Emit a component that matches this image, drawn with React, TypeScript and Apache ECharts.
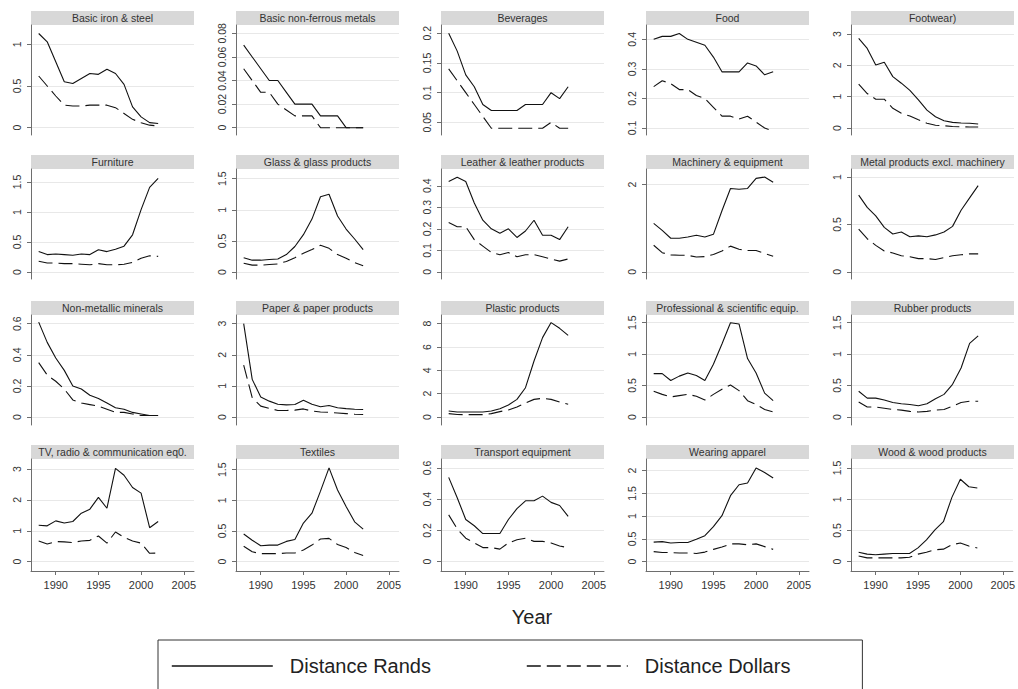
import React, { useEffect, useRef } from "react";
import * as echarts from "echarts";

const YEARS = [1988, 1989, 1990, 1991, 1992, 1993, 1994, 1995, 1996, 1997, 1998, 1999, 2000, 2001, 2002];
const X_TICKS = [1990, 1995, 2000, 2005];

const IRON_R = [1.13, 1.03, 0.79, 0.55, 0.53, 0.59, 0.65, 0.64, 0.7, 0.65, 0.52, 0.25, 0.13, 0.06, 0.05];
const IRON_D = [0.62, 0.5, 0.38, 0.27, 0.26, 0.26, 0.27, 0.27, 0.27, 0.24, 0.17, 0.1, 0.06, 0.03, 0.02];
const NF_R = [0.07, 0.06, 0.05, 0.04, 0.04, 0.03, 0.02, 0.02, 0.02, 0.01, 0.01, 0.01, 0, 0, 0];
const NF_D = [0.05, 0.04, 0.03, 0.03, 0.02, 0.015, 0.01, 0.01, 0.01, 0, 0, 0, 0, 0, 0];
const BEV_R = [0.2, 0.17, 0.13, 0.11, 0.08, 0.07, 0.07, 0.07, 0.07, 0.08, 0.08, 0.08, 0.1, 0.09, 0.11];
const BEV_D = [0.14, 0.12, 0.1, 0.08, 0.06, 0.04, 0.04, 0.04, 0.04, 0.04, 0.04, 0.04, 0.05, 0.04, 0.04];
const FOOD_R = [0.4, 0.41, 0.41, 0.42, 0.4, 0.39, 0.38, 0.34, 0.29, 0.29, 0.29, 0.32, 0.31, 0.28, 0.29];
const FOOD_D = [0.24, 0.26, 0.25, 0.23, 0.23, 0.21, 0.2, 0.17, 0.14, 0.14, 0.13, 0.14, 0.12, 0.1, 0.09];
const FOOT_R = [2.86, 2.54, 2.01, 2.1, 1.64, 1.43, 1.2, 0.9, 0.57, 0.36, 0.23, 0.18, 0.16, 0.15, 0.13];
const FOOT_D = [1.4, 1.1, 0.92, 0.92, 0.63, 0.47, 0.38, 0.26, 0.15, 0.09, 0.07, 0.05, 0.04, 0.03, 0.03];
const FURN_R = [0.34, 0.29, 0.3, 0.29, 0.28, 0.3, 0.29, 0.37, 0.34, 0.38, 0.43, 0.62, 1.04, 1.41, 1.56];
const FURN_D = [0.18, 0.15, 0.15, 0.14, 0.14, 0.13, 0.12, 0.14, 0.12, 0.12, 0.13, 0.16, 0.23, 0.27, 0.26];
const GLASS_R = [0.23, 0.19, 0.19, 0.2, 0.21, 0.28, 0.41, 0.6, 0.85, 1.21, 1.25, 0.9, 0.69, 0.53, 0.36];
const GLASS_D = [0.14, 0.11, 0.11, 0.12, 0.13, 0.17, 0.23, 0.3, 0.36, 0.43, 0.38, 0.28, 0.22, 0.15, 0.1];
const LEATH_R = [0.42, 0.44, 0.42, 0.32, 0.24, 0.2, 0.18, 0.2, 0.16, 0.19, 0.24, 0.17, 0.17, 0.15, 0.21];
const LEATH_D = [0.23, 0.21, 0.21, 0.15, 0.12, 0.09, 0.08, 0.09, 0.07, 0.08, 0.08, 0.07, 0.06, 0.05, 0.06];
const MACH_R = [1.11, 0.95, 0.77, 0.77, 0.8, 0.84, 0.8, 0.86, 1.4, 1.91, 1.89, 1.91, 2.14, 2.17, 2.05];
const MACH_D = [0.61, 0.44, 0.39, 0.38, 0.38, 0.34, 0.35, 0.4, 0.48, 0.59, 0.52, 0.49, 0.49, 0.42, 0.36];
const METAL_R = [0.81, 0.68, 0.59, 0.47, 0.4, 0.42, 0.37, 0.38, 0.37, 0.39, 0.42, 0.48, 0.65, 0.78, 0.91];
const METAL_D = [0.45, 0.35, 0.28, 0.22, 0.2, 0.17, 0.16, 0.14, 0.14, 0.13, 0.15, 0.17, 0.18, 0.19, 0.19];
const NONMET_R = [0.61, 0.48, 0.38, 0.3, 0.2, 0.18, 0.14, 0.12, 0.09, 0.06, 0.05, 0.03, 0.02, 0.01, 0.01];
const NONMET_D = [0.35, 0.27, 0.23, 0.18, 0.11, 0.09, 0.08, 0.07, 0.05, 0.03, 0.03, 0.02, 0.01, 0.01, 0.01];
const PAPER_R = [3.0, 1.21, 0.64, 0.51, 0.41, 0.39, 0.4, 0.54, 0.41, 0.33, 0.37, 0.3, 0.27, 0.25, 0.24];
const PAPER_D = [1.67, 0.62, 0.35, 0.28, 0.21, 0.21, 0.22, 0.26, 0.19, 0.16, 0.15, 0.13, 0.11, 0.09, 0.08];
const PLAST_R = [0.51, 0.43, 0.43, 0.43, 0.43, 0.51, 0.71, 1.03, 1.51, 2.51, 4.8, 6.8, 8.09, 7.6, 7.0];
const PLAST_D = [0.29, 0.22, 0.2, 0.2, 0.2, 0.29, 0.46, 0.6, 0.86, 1.2, 1.51, 1.6, 1.51, 1.29, 1.09];
const PROF_R = [0.69, 0.69, 0.58, 0.65, 0.7, 0.66, 0.58, 0.84, 1.16, 1.5, 1.48, 0.93, 0.7, 0.38, 0.26];
const PROF_D = [0.41, 0.36, 0.32, 0.34, 0.36, 0.33, 0.27, 0.36, 0.44, 0.51, 0.42, 0.26, 0.2, 0.12, 0.08];
const RUB_R = [0.41, 0.3, 0.3, 0.27, 0.23, 0.21, 0.2, 0.18, 0.21, 0.29, 0.36, 0.52, 0.78, 1.17, 1.29];
const RUB_D = [0.24, 0.16, 0.16, 0.14, 0.12, 0.11, 0.09, 0.08, 0.09, 0.11, 0.12, 0.17, 0.23, 0.25, 0.25];
const TV_R = [1.18, 1.16, 1.32, 1.25, 1.3, 1.57, 1.7, 2.08, 1.73, 3.02, 2.8, 2.4, 2.22, 1.1, 1.3];
const TV_D = [0.67, 0.57, 0.65, 0.64, 0.62, 0.67, 0.69, 0.83, 0.6, 0.96, 0.79, 0.67, 0.6, 0.27, 0.28];
const TEX_R = [0.45, 0.35, 0.26, 0.27, 0.27, 0.33, 0.36, 0.63, 0.79, 1.15, 1.53, 1.17, 0.9, 0.65, 0.53];
const TEX_D = [0.25, 0.16, 0.13, 0.13, 0.13, 0.14, 0.14, 0.19, 0.27, 0.37, 0.38, 0.28, 0.23, 0.15, 0.1];
const TRANS_R = [0.54, 0.41, 0.27, 0.23, 0.18, 0.18, 0.18, 0.27, 0.34, 0.39, 0.39, 0.42, 0.38, 0.36, 0.29];
const TRANS_D = [0.3, 0.21, 0.15, 0.12, 0.09, 0.09, 0.08, 0.12, 0.14, 0.15, 0.13, 0.13, 0.12, 0.1, 0.09];
const WEAR_R = [0.43, 0.44, 0.41, 0.42, 0.42, 0.49, 0.57, 0.77, 1.01, 1.45, 1.69, 1.73, 2.06, 1.96, 1.84];
const WEAR_D = [0.22, 0.2, 0.2, 0.19, 0.19, 0.18, 0.21, 0.27, 0.32, 0.39, 0.39, 0.37, 0.39, 0.33, 0.27];
const WOOD_R = [0.15, 0.12, 0.11, 0.12, 0.13, 0.13, 0.13, 0.22, 0.35, 0.51, 0.64, 1.03, 1.32, 1.2, 1.18];
const WOOD_D = [0.09, 0.06, 0.06, 0.06, 0.06, 0.06, 0.07, 0.12, 0.15, 0.19, 0.2, 0.27, 0.3, 0.25, 0.22];

const PANELS = [
  { name: "Basic iron & steel", r: IRON_R, d: IRON_D, ticks: [0, 0.5, 1], range: [-0.088, 1.232] },
  { name: "Basic non-ferrous metals", r: NF_R, d: NF_D, ticks: [0, 0.02, 0.04, 0.06, 0.08], range: [-0.0062, 0.0871] },
  { name: "Beverages", r: BEV_R, d: BEV_D, ticks: [0.05, 0.1, 0.15, 0.2], range: [0.0287, 0.214] },
  { name: "Food", r: FOOD_R, d: FOOD_D, ticks: [0.1, 0.2, 0.3, 0.4], range: [0.0763, 0.4485] },
  { name: "Footwear)", r: FOOT_R, d: FOOT_D, ticks: [0, 1, 2, 3], range: [-0.223, 3.287] },
  { name: "Furniture", r: FURN_R, d: FURN_D, ticks: [0, 0.5, 1, 1.5], range: [-0.117, 1.717] },
  { name: "Glass & glass products", r: GLASS_R, d: GLASS_D, ticks: [0, 0.5, 1, 1.5], range: [-0.1125, 1.655] },
  { name: "Leather & leather products", r: LEATH_R, d: LEATH_D, ticks: [0, 0.1, 0.2, 0.3, 0.4], range: [-0.033, 0.478] },
  { name: "Machinery & equipment", r: MACH_R, d: MACH_D, ticks: [0, 2], range: [-0.162, 2.355] },
  { name: "Metal products excl. machinery", r: METAL_R, d: METAL_D, ticks: [0, 0.5, 1], range: [-0.075, 1.085] },
  { name: "Non-metallic minerals", r: NONMET_R, d: NONMET_D, ticks: [0, 0.2, 0.4, 0.6], range: [-0.051, 0.656] },
  { name: "Paper & paper products", r: PAPER_R, d: PAPER_D, ticks: [0, 1, 2, 3], range: [-0.257, 3.279] },
  { name: "Plastic products", r: PLAST_R, d: PLAST_D, ticks: [0, 2, 4, 6, 8], range: [-0.686, 8.74] },
  { name: "Professional & scientific equip.", r: PROF_R, d: PROF_D, ticks: [0, 0.5, 1, 1.5], range: [-0.127, 1.622] },
  { name: "Rubber products", r: RUB_R, d: RUB_D, ticks: [0, 0.5, 1, 1.5], range: [-0.127, 1.622] },
  { name: "TV, radio & communication eq0.", r: TV_R, d: TV_D, ticks: [0, 1, 2, 3], range: [-0.303, 3.325] },
  { name: "Textiles", r: TEX_R, d: TEX_D, ticks: [0, 0.5, 1, 1.5], range: [-0.153, 1.675] },
  { name: "Transport equipment", r: TRANS_R, d: TRANS_D, ticks: [0, 0.2, 0.4, 0.6], range: [-0.06, 0.658] },
  { name: "Wearing apparel", r: WEAR_R, d: WEAR_D, ticks: [0, 0.5, 1, 1.5, 2], range: [-0.206, 2.257] },
  { name: "Wood & wood products", r: WOOD_R, d: WOOD_D, ticks: [0, 0.5, 1, 1.5], range: [-0.15, 1.645] },
];

const FONT = "'Liberation Sans', Arial, Helvetica, sans-serif";
const COL_LEFT = [31, 236, 441, 646, 851];
const COL_W = 163;
const ROW_TOP = [25, 169, 315, 459];
const ROW_H = [110, 110, 110, 112];
const BAR_H = 14;
const AXIS_COLOR = "#6e6e6e";
const DASH = [14, 6];

function buildOption() {
  const grid: any[] = [];
  const xAxis: any[] = [];
  const yAxis: any[] = [];
  const series: any[] = [];
  const graphic: any[] = [];
  PANELS.forEach((p, i) => {
    const r = Math.floor(i / 5);
    const c = i % 5;
    const left = COL_LEFT[c];
    const top = ROW_TOP[r];
    grid.push({ left, top, width: COL_W, height: ROW_H[r], containLabel: false });
    const bottomRow = r === 3;
    xAxis.push({
      type: "value",
      gridIndex: i,
      min: 1987.1,
      max: 2006.2,
      show: bottomRow,
      axisLine: { show: true, onZero: false, lineStyle: { color: AXIS_COLOR, width: 1 } },
      axisTick: { show: true, length: 4, customValues: X_TICKS, lineStyle: { color: AXIS_COLOR } },
      axisLabel: {
        show: true,
        customValues: X_TICKS,
        fontSize: 11,
        color: "#333",
        margin: 8,
        fontFamily: FONT,
        formatter: (v: number) => String(v),
      },
      splitLine: { show: false },
    });
    yAxis.push({
      type: "value",
      gridIndex: i,
      min: p.range[0],
      max: p.range[1],
      axisLine: { show: true, onZero: false, lineStyle: { color: AXIS_COLOR, width: 1 } },
      axisTick: { show: true, length: 4, customValues: p.ticks, lineStyle: { color: AXIS_COLOR } },
      axisLabel: {
        show: true,
        customValues: p.ticks,
        rotate: 90,
        fontSize: 10.5,
        color: "#333",
        margin: 9,
        fontFamily: FONT,
        formatter: (v: number) => String(v),
      },
      splitLine: { show: true, lineStyle: { color: "#e8e8e8", width: 1 } },
    });
    series.push({
      type: "line",
      name: "Distance Rands",
      xAxisIndex: i,
      yAxisIndex: i,
      data: YEARS.map((y, k) => [y, p.r[k]]),
      symbol: "none",
      silent: true,
      lineStyle: { color: "#111", width: 1.1 },
      itemStyle: { color: "#111" },
    });
    series.push({
      type: "line",
      name: "Distance Dollars",
      xAxisIndex: i,
      yAxisIndex: i,
      data: YEARS.map((y, k) => [y, p.d[k]]),
      symbol: "none",
      silent: true,
      lineStyle: { color: "#111", width: 1.1, type: DASH },
      itemStyle: { color: "#111" },
    });
    graphic.push({
      type: "rect",
      silent: true,
      shape: { x: left, y: top - BAR_H, width: COL_W, height: BAR_H },
      style: { fill: "#d8d8d8" },
    });
    graphic.push({
      type: "text",
      silent: true,
      x: left + COL_W / 2,
      y: top - BAR_H / 2,
      style: {
        text: p.name,
        fontSize: 10.5,
        fontFamily: FONT,
        fill: "#333",
        align: "center",
        verticalAlign: "middle",
        textAlign: "center",
        textVerticalAlign: "middle",
      },
    });
  });
  graphic.push({
    type: "text",
    silent: true,
    x: 532,
    y: 617,
    style: {
      text: "Year",
      fontSize: 20,
      fontFamily: FONT,
      fill: "#222",
      align: "center",
      verticalAlign: "middle",
      textAlign: "center",
      textVerticalAlign: "middle",
    },
  });
  return {
    animation: false,
    backgroundColor: "#ffffff",
    grid,
    xAxis,
    yAxis,
    series,
    graphic,
    legend: {
      data: ["Distance Rands", "Distance Dollars"],
      left: 158,
      top: 640,
      orient: "horizontal",
      padding: [16, 72, 24, 13],
      itemWidth: 101,
      itemHeight: 20,
      itemGap: 95,
      borderColor: "#333",
      borderWidth: 1,
      borderRadius: 0,
      selectedMode: false,
      itemStyle: { opacity: 0 },
      lineStyle: { width: 1.6 },
      textStyle: { fontSize: 20, color: "#222", fontFamily: FONT, padding: [0, 0, 0, 12] },
    },
  };
}

export default function App() {
  const ref = useRef<HTMLDivElement>(null);
  useEffect(() => {
    if (!ref.current) return;
    const chart = echarts.init(ref.current, null, { renderer: "svg" });
    chart.setOption(buildOption() as any);
    return () => chart.dispose();
  }, []);
  return (
    <div
      ref={ref}
      style={{ position: "absolute", left: 0, top: 0, width: 1018, height: 689, background: "#fff" }}
    />
  );
}
